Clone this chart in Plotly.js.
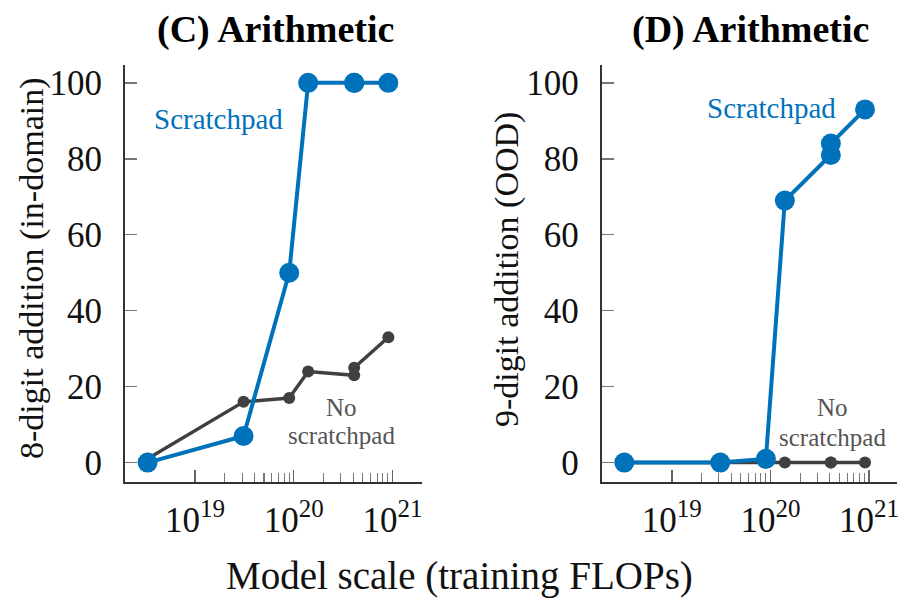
<!DOCTYPE html>
<html>
<head>
<meta charset="utf-8">
<script src="https://cdn.plot.ly/plotly-3.0.1.min.js"></script>
<style>html,body{margin:0;padding:0;background:#fff;}</style>
</head>
<body>
<div id="chart" style="width:912px;height:600px;"></div>
<script>
// Training FLOPs of the models (two models share ~4.1e20)
const flops = [3.3e18, 3.1e19, 9.0e19, 1.4e20, 4.1e20, 4.1e20, 9.1e20];
// (C) 8-digit addition (in-domain)
const inDomainScratch = [0, 7, 50, 100, 100, 100, 100];
const inDomainNoScratch = [1, 16, 17, 24, 23, 25, 33];
// (D) 9-digit addition (OOD)
const oodScratch = [0, 0, 1, 69, 81, 84, 93];
const oodNoScratch = [0, 0, 0, 0, 0, 0, 0];

const majorTicks = [1e19, 1e20, 1e21];
const majorText = ['10<sup><span style="font-size:25px">19</span></sup>', '10<sup><span style="font-size:25px">20</span></sup>', '10<sup><span style="font-size:25px">21</span></sup>'];
const minorTicks = [2e19,3e19,4e19,5e19,6e19,7e19,8e19,9e19,2e20,3e20,4e20,5e20,6e20,7e20,8e20,9e20];
const yTicks = [0, 20, 40, 60, 80, 100];

const BLUE = '#0072bb';
const DARK = '#404040';
const FONT = 'Liberation Serif';

function darkTrace(y, xa, ya) {
  return {x: flops, y: y, xaxis: xa, yaxis: ya, type: 'scatter', mode: 'lines+markers',
    line: {color: DARK, width: 3.5}, marker: {color: DARK, size: 12}, cliponaxis: false, showlegend: false};
}
function blueTrace(y, xa, ya) {
  return {x: flops, y: y, xaxis: xa, yaxis: ya, type: 'scatter', mode: 'lines+markers',
    line: {color: BLUE, width: 4}, marker: {color: BLUE, size: 20}, cliponaxis: false, showlegend: false};
}

const data = [
  darkTrace(inDomainNoScratch, 'x', 'y'),
  blueTrace(inDomainScratch, 'x', 'y'),
  darkTrace(oodNoScratch, 'x2', 'y2'),
  blueTrace(oodScratch, 'x2', 'y2')
];

function xAxis(domain, range, anchor) {
  return {domain: domain, type: 'log', range: range, anchor: anchor,
    showline: true, linecolor: '#333', linewidth: 2, showgrid: false, zeroline: false,
    tickmode: 'array', tickvals: majorTicks, ticktext: majorText,
    ticks: 'inside', ticklen: 12, tickwidth: 1.5, tickcolor: '#666',
    ticklabelstandoff: 6,
    tickfont: {family: FONT, size: 35, color: '#111'},
    minor: {tickmode: 'array', tickvals: minorTicks, ticks: 'inside', ticklen: 9, tickwidth: 1.2, tickcolor: '#777', showgrid: false}
  };
}
function yAxis(anchor) {
  return {domain: [0.1967, 0.8917], range: [-5.1, 104.7], anchor: anchor,
    showline: true, linecolor: '#333', linewidth: 2, showgrid: false, zeroline: false,
    tickmode: 'array', tickvals: yTicks,
    ticks: 'inside', ticklen: 12, tickwidth: 1.5, tickcolor: '#777',
    ticklabelstandoff: 14,
    tickfont: {family: FONT, size: 35, color: '#111'}
  };
}

function ann(text, px, py, size, color, extra) {
  return Object.assign({text: text, xref: 'paper', yref: 'paper', x: px / 912, y: 1 - py / 600,
    xanchor: 'center', yanchor: 'middle', showarrow: false,
    font: {family: FONT, size: size, color: color}}, extra || {});
}

const layout = {
  width: 912, height: 600,
  margin: {l: 0, r: 0, t: 0, b: 0},
  paper_bgcolor: '#fff', plot_bgcolor: '#fff',
  showlegend: false,
  xaxis: xAxis([0.1371, 0.4627], [18.29, 21.30], 'y'),
  yaxis: yAxis('x'),
  xaxis2: xAxis([0.6598, 0.9832], [18.29, 21.28], 'y2'),
  yaxis2: yAxis('x2'),
  annotations: [
    ann('<b>(C) Arithmetic</b>', 275, 29, 38, '#000'),
    ann('<b>(D) Arithmetic</b>', 750, 29, 38, '#000'),
    ann('8-digit addition (in-domain)', 32, 268, 34, '#111', {textangle: -90}),
    ann('9-digit addition (OOD)', 507, 270, 34, '#111', {textangle: -90}),
    ann('Model scale (training FLOPs)', 459, 576, 39, '#111'),
    ann('Scratchpad', 218, 119, 29, BLUE),
    ann('Scratchpad', 771, 108, 29, BLUE),
    ann('No', 341, 407, 25, '#555'),
    ann('scratchpad', 341, 435, 25, '#555'),
    ann('No', 832, 407, 25, '#555'),
    ann('scratchpad', 832, 437, 25, '#555')
  ]
};

Plotly.newPlot('chart', data, layout, {staticPlot: true, displayModeBar: false});
</script>
</body>
</html>
